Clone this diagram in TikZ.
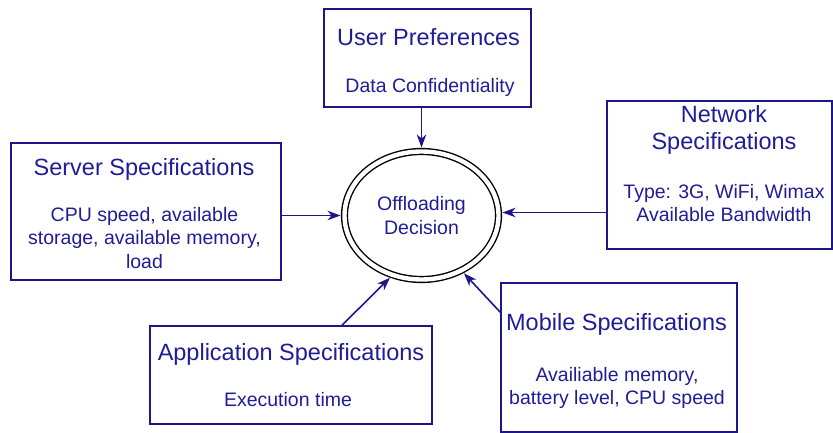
\documentclass[tikz,border=0pt]{standalone}
\usepackage{fontspec}
\setmainfont{Liberation Sans}
\usetikzlibrary{arrows.meta,shapes.geometric}
\definecolor{navy}{RGB}{28,22,138}
\definecolor{txtblue}{RGB}{32,28,150}
\begin{document}
\begin{tikzpicture}[x=1pt,y=-1pt,
  boxframe/.style={draw=navy,line width=1.6pt,rectangle,inner sep=0pt},
  titletext/.style={text=txtblue,align=center,inner sep=0pt,font=\fontsize{23.5}{27.5}\selectfont},
  bodytext/.style={text=txtblue,align=center,inner sep=0pt,font=\fontsize{19.5}{23.4}\selectfont},
  arr/.style={draw=navy,line width=1.6pt,-{Stealth[length=13pt,width=9.5pt,inset=4pt]}},
  decision/.style={ellipse,draw=black,line width=1.4pt,double=white,double distance=4.4pt,
    minimum width=154pt,minimum height=128pt,inner sep=0pt,text=txtblue,align=center,
    font=\fontsize{19.5}{23.4}\selectfont}]
\useasboundingbox (0,0) rectangle (833,433);
% boxes
\node[boxframe,minimum width=207pt,minimum height=98pt] (user) at (427.5,58) {};
\node[boxframe,minimum width=225pt,minimum height=148pt] (network) at (719.5,175) {};
\node[boxframe,minimum width=270pt,minimum height=137pt] (server) at (146,211.5) {};
\node[boxframe,minimum width=282pt,minimum height=98pt] (app) at (291,375) {};
\node[boxframe,minimum width=236pt,minimum height=149pt] (mobile) at (619,357.5) {};
% texts
\node[titletext] (usert) at (428.5,37) {User Preferences};
\node[bodytext] (userb) at (430,87) {Data Confidentiality};
\node[titletext] (networkt) at (724,130) {Network\\Specifications};
\node[bodytext] (networkb) at (724,203) {Type: 3G, WiFi, Wimax\\Available Bandwidth};
\node[titletext] (servert) at (144,169) {Server Specifications};
\node[bodytext] (serverb) at (144.5,238) {CPU speed, available\\storage, available memory,\\load};
\node[titletext] (appt) at (291,354) {Application Specifications};
\node[bodytext] (appb) at (288,400) {Execution time};
\node[titletext] (mobilet) at (616.5,324) {Mobile Specifications};
\node[bodytext] (mobileb) at (617,388) {Availiable memory,\\battery level, CPU speed};
% decision
\node[decision] (dec) at (421.5,215.5) {Offloading\\Decision};
% connectors
\draw[arr,shorten >=3.3pt] (dec.north |- user.south) -- (dec.north);
\draw[arr,shorten >=3.3pt] (server.east |- dec.west) -- (dec.west);
\draw[arr,shorten >=3.3pt] ([yshift=3pt]network.west |- dec.east) -- ([yshift=3pt]dec.east);
\draw[arr,shorten >=3.3pt] ([xshift=51pt]app.north) -- (dec.244);
\draw[arr,shorten >=3.3pt] ([yshift=-30pt]mobile.north west) -- (dec.306);
\end{tikzpicture}
\end{document}
